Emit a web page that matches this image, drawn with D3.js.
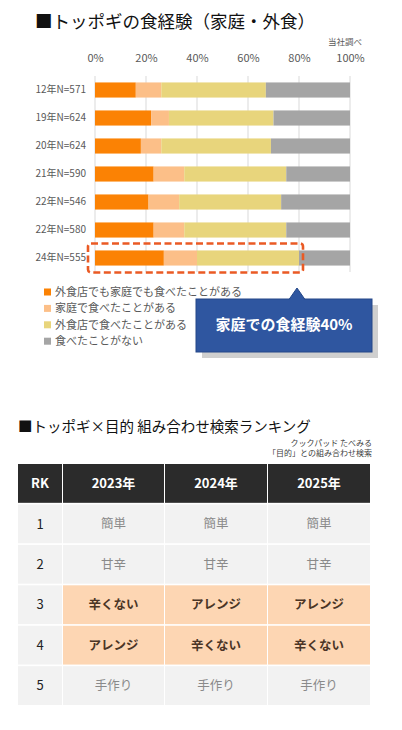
<!DOCTYPE html>
<html lang="ja">
<head>
<meta charset="utf-8">
<title>トッポギの食経験</title>
<style>
  body { margin: 0; background: #fff; }
  svg { display: block; font-family: "Noto Sans CJK JP", "Noto Sans", sans-serif; }
</style>
<script src="https://d3js.org/d3.v7.min.js" charset="utf-8"></script>
</head>
<body>
<svg id="chart" width="402" height="730"></svg>
<script>
// 上段: 食経験 (%)
var years = ["12年N=571", "19年N=624", "20年N=624", "21年N=590", "22年N=546", "22年N=580", "24年N=555"];
var bothEat  = [16, 22, 18, 23, 21, 23, 27];   // 外食店でも家庭でも
var homeEat  = [10,  7,  8, 12, 12, 12, 13];   // 家庭で
var outEat   = [41, 41, 43, 40, 40, 40, 40];   // 外食店で
var neverEat = [33, 30, 31, 25, 27, 25, 20];   // 食べたことがない
var seriesNames = ["外食店でも家庭でも食べたことがある", "家庭で食べたことがある", "外食店で食べたことがある", "食べたことがない"];
var pctTicks = [0, 20, 40, 60, 80, 100];

// 下段: 検索ランキング
var rankHead = ["RK", "2023年", "2024年", "2025年"];
var ranks = [1, 2, 3, 4, 5];
var rank2023 = ["簡単", "甘辛", "辛くない", "アレンジ", "手作り"];
var rank2024 = ["簡単", "甘辛", "アレンジ", "辛くない", "手作り"];
var rank2025 = ["簡単", "甘辛", "アレンジ", "辛くない", "手作り"];

var colors = ["#fb8204", "#fcbf88", "#e8d57c", "#a5a5a5"];
var svg = d3.select("#chart");

// ---- タイトル
svg.append("text").attr("x", 35).attr("y", 28)
  .attr("font-size", 17.5).attr("fill", "#111")
  .text("■トッポギの食経験（家庭・外食）");
svg.append("text").attr("x", 362).attr("y", 45)
  .attr("font-size", 8.5).attr("fill", "#595959").attr("text-anchor", "end")
  .text("当社調べ");

// ---- 積み上げ棒
var x = d3.scaleLinear().domain([0, 100]).range([95, 350]);
var y = d3.scaleBand().domain(years).range([76, 272]).paddingInner(0.46).paddingOuter(0.23);

var rows = years.map(function (d, i) {
  return { year: d, v: [bothEat[i], homeEat[i], outEat[i], neverEat[i]] };
});
var stack = d3.stack().keys([0, 1, 2, 3]).value(function (d, k) { return d.v[k]; });
var layers = stack(rows);

// グリッド
svg.append("g").selectAll("line").data(pctTicks).join("line")
  .attr("x1", function (d) { return x(d); }).attr("x2", function (d) { return x(d); })
  .attr("y1", 76).attr("y2", 272)
  .attr("stroke", "#d9d9d9").attr("stroke-width", 1);

var xAxis = svg.append("g").attr("transform", "translate(0,58)")
  .call(d3.axisTop(x).tickValues(pctTicks).tickSize(0).tickFormat(function (d) { return d + "%"; }));
xAxis.select(".domain").remove();
xAxis.selectAll("text").attr("font-size", 11).attr("fill", "#595959")
  .attr("font-family", "'Noto Sans CJK JP', sans-serif").attr("y", 0).attr("dy", "0.32em");

svg.append("g").selectAll("g").data(layers).join("g")
  .attr("fill", function (d, i) { return colors[i]; })
  .selectAll("rect").data(function (d) { return d; }).join("rect")
  .attr("x", function (d) { return x(d[0]); })
  .attr("width", function (d) { return x(d[1]) - x(d[0]); })
  .attr("y", function (d) { return y(d.data.year); })
  .attr("height", y.bandwidth());

var yAxis = svg.append("g").attr("transform", "translate(86,0)")
  .call(d3.axisLeft(y).tickSize(0).tickPadding(0));
yAxis.select(".domain").remove();
yAxis.selectAll("text").attr("font-size", 10).attr("fill", "#595959")
  .attr("font-family", "'Noto Sans CJK JP', sans-serif");

// 24年の強調枠
var last = years[years.length - 1];
svg.append("rect")
  .attr("x", 88).attr("y", y(last) - 7)
  .attr("width", x(bothEat[6] + homeEat[6] + outEat[6]) - 88 + 4)
  .attr("height", y.bandwidth() + 14)
  .attr("rx", 3)
  .attr("fill", "none").attr("stroke", "#ea5a24").attr("stroke-width", 2.6)
  .attr("stroke-dasharray", "7,3.5");

// 凡例
var lg = svg.append("g").selectAll("g").data(seriesNames).join("g")
  .attr("transform", function (d, i) { return "translate(44," + (292 + i * 16.4) + ")"; });
lg.append("rect").attr("x", 0).attr("y", -3.5).attr("width", 7).attr("height", 7)
  .attr("fill", function (d, i) { return colors[i]; });
lg.append("text").attr("x", 11).attr("dy", "0.36em")
  .attr("font-size", 11).attr("fill", "#595959")
  .text(function (d) { return d; });

// 吹き出し
var homeShare = bothEat[6] + homeEat[6];
var callout = svg.append("g");
callout.append("rect").attr("x", 202).attr("y", 305).attr("width", 176).attr("height", 53).attr("fill", "#cfcfcf");
callout.append("rect").attr("x", 196).attr("y", 299).attr("width", 176).attr("height", 53)
  .attr("fill", "#2f56a0").attr("stroke", "#244788").attr("stroke-width", 1);
callout.append("path")
  .attr("d", "M289,299.5 L297,288 L305,299.5 Z")
  .attr("fill", "#2f56a0").attr("stroke", "#244788").attr("stroke-width", 1);
callout.append("rect").attr("x", 289.5).attr("y", 299).attr("width", 15).attr("height", 2).attr("fill", "#2f56a0");
callout.append("text").attr("x", 284).attr("y", 325).attr("dy", "0.35em")
  .attr("text-anchor", "middle").attr("font-size", 15).attr("font-weight", "bold").attr("fill", "#fff")
  .text("家庭での食経験" + homeShare + "%");

// ---- ランキング表
svg.append("text").attr("x", 18).attr("y", 432)
  .attr("font-size", 14.5).attr("fill", "#111")
  .text("■トッポギ×目的 組み合わせ検索ランキング");
svg.append("text").attr("x", 372).attr("y", 446)
  .attr("font-size", 8).attr("fill", "#404040").attr("text-anchor", "end")
  .text("クックパッド たべみる");
svg.append("text").attr("x", 372).attr("y", 456)
  .attr("font-size", 8).attr("fill", "#404040").attr("text-anchor", "end")
  .text("「目的」との組み合わせ検索");

var colX = d3.scaleOrdinal().domain(rankHead).range([18, 63, 165, 268]);
var colW = d3.scaleOrdinal().domain(rankHead).range([44, 101, 102, 102]);
var rowY = d3.scaleBand().domain(["head"].concat(ranks)).range([464, 705]).paddingInner(0.04).paddingOuter(0);

var tableRows = ranks.map(function (r, i) {
  return [String(r), rank2023[i], rank2024[i], rank2025[i]];
});
var movers = new Set(["辛くない", "アレンジ"]);

var head = svg.append("g");
head.selectAll("rect").data(rankHead).join("rect")
  .attr("x", function (d) { return colX(d); }).attr("width", function (d) { return colW(d); })
  .attr("y", rowY("head")).attr("height", rowY.bandwidth())
  .attr("fill", "#2b2b2b");
head.selectAll("text").data(rankHead).join("text")
  .attr("x", function (d) { return colX(d) + colW(d) / 2; })
  .attr("y", rowY("head") + rowY.bandwidth() / 2).attr("dy", "0.36em")
  .attr("text-anchor", "middle").attr("font-size", 13).attr("font-weight", "bold").attr("fill", "#fff")
  .text(function (d) { return d; });

var body = svg.append("g").selectAll("g").data(tableRows).join("g")
  .attr("transform", function (d, i) { return "translate(0," + rowY(ranks[i]) + ")"; });
var cells = body.selectAll("g").data(function (d) {
  return d.map(function (v, j) { return { col: rankHead[j], v: v, j: j }; });
}).join("g");
cells.append("rect")
  .attr("x", function (d) { return colX(d.col); }).attr("width", function (d) { return colW(d.col); })
  .attr("height", rowY.bandwidth())
  .attr("fill", function (d) { return d.j > 0 && movers.has(d.v) ? "#fdd6b3" : "#f2f2f2"; });
cells.append("text")
  .attr("x", function (d) { return colX(d.col) + colW(d.col) / 2; })
  .attr("y", rowY.bandwidth() / 2).attr("dy", "0.36em")
  .attr("text-anchor", "middle")
  .attr("font-size", function (d) { return d.j === 0 ? 13 : 12.5; })
  .attr("font-weight", function (d) { return d.j > 0 && movers.has(d.v) ? "bold" : "normal"; })
  .attr("fill", function (d) {
    if (d.j === 0) return "#222";
    return movers.has(d.v) ? "#4a3526" : "#8a8a8a";
  })
  .text(function (d) { return d.v; });
</script>
</body>
</html>
